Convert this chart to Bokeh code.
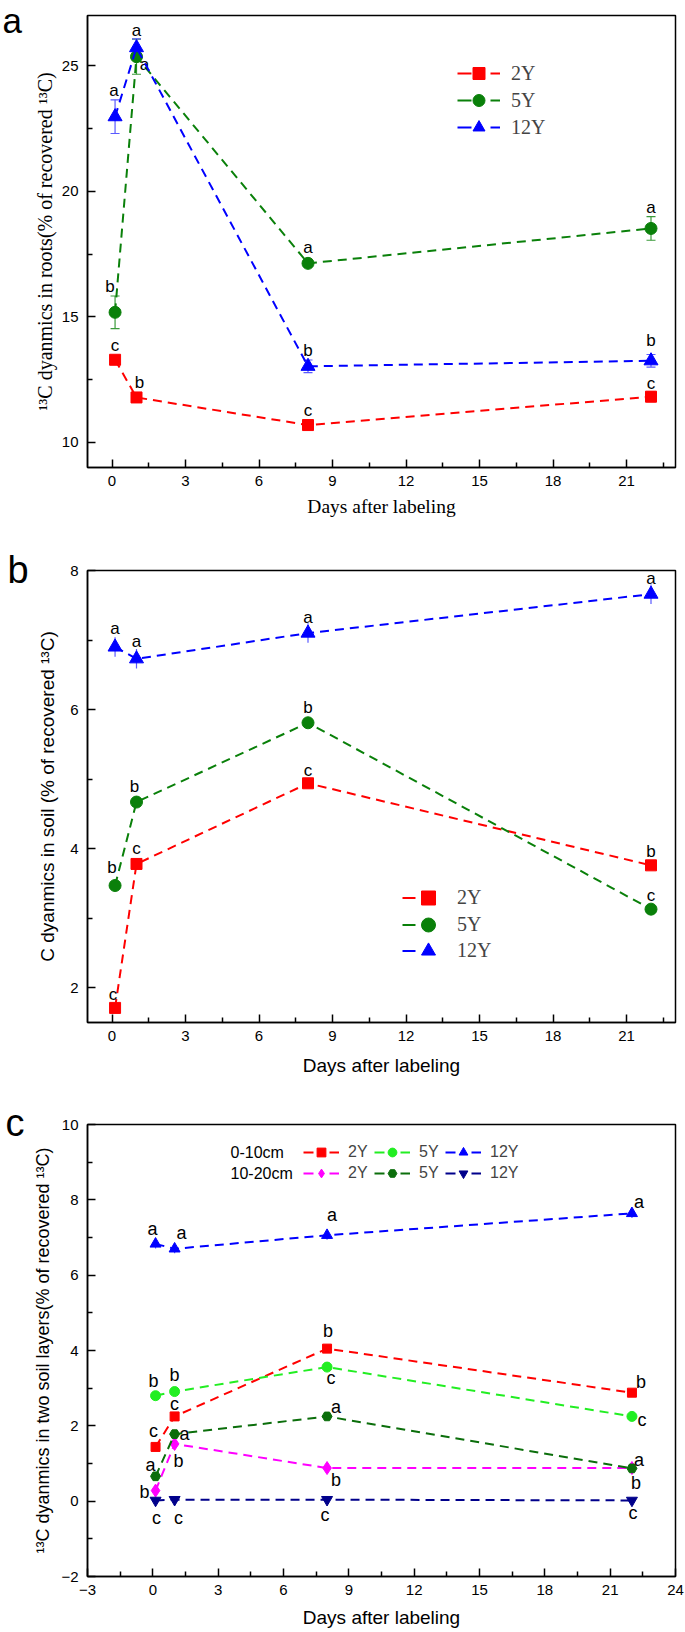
from bokeh.plotting import figure
from bokeh.models import (Range1d, FixedTicker, Legend, LegendItem, Label,
                          ColumnDataSource, Whisker, TeeHead)
from bokeh.layouts import column
from bokeh.embed import file_html
from bokeh.resources import INLINE
from bokeh.core.properties import value

SANS = "Liberation Sans"
SERIF = "Liberation Serif"
NAN = float("nan")

# ---------------- data ----------------
days = [0.125, 1, 8, 22]

# panel a: roots
roots_2y = [13.29, 11.79, 10.69, 11.82]
roots_5y = [15.18, 25.36, 17.13, 18.52]
roots_12y = [22.97, 25.72, 13.03, 13.25]
roots_2y_err = [0.10, 0.10, 0.10, 0.20]
roots_5y_err = [0.65, 0.70, 0.10, 0.47]
roots_12y_err = [0.67, 0.35, 0.25, 0.25]
roots_2y_sig = ["c", "b", "c", "c"]
roots_5y_sig = ["b", "a", "a", "a"]
roots_12y_sig = ["a", "a", "b", "b"]

# panel b: soil
soil_2y = [1.71, 3.78, 4.94, 3.76]
soil_5y = [3.47, 4.67, 5.81, 3.13]
soil_12y = [6.90, 6.73, 7.10, 7.66]
soil_2y_err = [0.03, 0.05, 0.05, 0.05]
soil_5y_err = [0.05, 0.05, 0.05, 0.05]
soil_12y_err = [0.14, 0.14, 0.14, 0.14]
soil_2y_sig = ["c", "c", "c", "b"]
soil_5y_sig = ["b", "b", "b", "c"]
soil_12y_sig = ["a", "a", "a", "a"]

# panel c: two soil layers
l1_2y = [1.44, 2.25, 4.05, 2.88]
l1_5y = [2.80, 2.91, 3.56, 2.25]
l1_12y = [6.83, 6.70, 7.06, 7.64]
l2_2y = [0.28, 1.52, 0.88, 0.88]
l2_5y = [0.66, 1.78, 2.25, 0.87]
l2_12y = [0.02, 0.04, 0.04, 0.02]
l1_12y_err = [0.12, 0.12, 0.12, 0.12]
l1_2y_sig = ["c", "c", "b", "b"]
l1_5y_sig = ["b", "b", "c", "c"]
l1_12y_sig = ["a", "a", "a", "a"]
l2_2y_sig = ["b", "b", "b", "b"]
l2_5y_sig = ["a", "a", "a", "a"]
l2_12y_sig = ["c", "c", "c", "c"]

series_names = ["2Y", "5Y", "12Y"]
layer_names = ["0-10cm", "10-20cm"]

x_ticks_ab = [0, 3, 6, 9, 12, 15, 18, 21]
x_ticks_c = [-3, 0, 3, 6, 9, 12, 15, 18, 21, 24]

# --------------- styling (label offsets in px: dx, up) ---------------
off_a_2y = [(0, 14), (3, 15), (0, 15), (0, 13)]
off_a_5y = [(-5, 26), (8, -8), (0, 16), (0, 21)]
off_a_12y = [(-1, 26), (0, 17), (0, 16), (0, 20)]
off_b_2y = [(-2, 13), (0, 15), (0, 13), (0, 14)]
off_b_5y = [(-3, 18), (-2, 16), (0, 15), (0, 14)]
off_b_12y = [(0, 18), (0, 17), (0, 16), (0, 16)]
off_c_l1_12y = [(-3, 15), (7, 16), (5, 20), (7, 11)]
off_c_l1_2y = [(-2, 16), (0, 12), (1, 18), (9, 11)]
off_c_l1_5y = [(-2, 15), (0, 17), (4, -11), (10, -4)]
off_c_l2_5y = [(-5, 11), (10, 0), (9, 9), (7, 8)]
off_c_l2_2y = [(-11, -1), (4, -17), (9, -12), (4, -15)]
off_c_l2_12y = [(1, -18), (4, -18), (-2, -15), (1, -13)]

RED, GREEN, BLUE = "#FF0000", "#0A800A", "#0000FF"
LIME, DKGREEN, NAVY, MAGENTA = "#22EE22", "#0B6E0B", "#00008B", "#FF00FF"
DASH = "9 6"


def make_fig(height, b_top, b_bottom, xr, yr, xt, xm, yt, ym):
    p = figure(width=685, height=height, output_backend="svg", toolbar_location=None,
               x_range=Range1d(*xr), y_range=Range1d(*yr),
               min_border_left=87, min_border_right=10,
               min_border_top=b_top, min_border_bottom=b_bottom)
    p.xgrid.visible = False
    p.ygrid.visible = False
    p.outline_line_color = "black"
    p.outline_line_width = 1.5
    p.background_fill_color = "white"
    p.border_fill_color = "white"
    for ax, tk, mn in ((p.xaxis[0], xt, xm), (p.yaxis[0], yt, ym)):
        ax.ticker = FixedTicker(ticks=tk, minor_ticks=mn)
        ax.major_tick_in = 8
        ax.major_tick_out = 0
        ax.minor_tick_in = 5
        ax.minor_tick_out = 0
        ax.axis_line_width = 1.5
        ax.major_tick_line_width = 1.5
        ax.minor_tick_line_width = 1.5
        ax.major_label_text_font = SANS
        ax.major_label_text_font_size = "15px"
        ax.major_label_text_color = "black"
        ax.axis_label_text_font_style = "normal"
        ax.axis_label_text_color = "black"
    p.xaxis[0].major_label_standoff = 8
    p.yaxis[0].major_label_standoff = 9
    return p


def add_series(p, ys, errs, sig, offs, color, marker, size, err_color, fsize, heads):
    p.line(days, ys, line_color=color, line_width=2, line_dash=DASH)
    if errs is not None:
        src = ColumnDataSource(dict(x=days,
                                    upper=[y + e for y, e in zip(ys, errs)],
                                    lower=[y - e for y, e in zip(ys, errs)]))
        if heads:
            kw = dict(upper_head=TeeHead(size=9, line_color=err_color, line_width=1.2),
                      lower_head=TeeHead(size=9, line_color=err_color, line_width=1.2))
        else:
            kw = dict(upper_head=None, lower_head=None)
        p.add_layout(Whisker(source=src, base="x", upper="upper", lower="lower",
                             line_color=err_color, line_width=1.2, **kw))
    sc = p.scatter(days, ys, marker=marker, size=size, fill_color=color, line_color=color)
    tsrc = ColumnDataSource(dict(x=days, y=ys, t=sig,
                                 dx=[o[0] for o in offs], dy=[-o[1] for o in offs]))
    p.text(x="x", y="y", text="t", x_offset="dx", y_offset="dy", source=tsrc,
           text_font=value(SANS), text_font_size=fsize, text_align="center",
           text_baseline="middle", text_color="black")
    return sc


def legend_line(p, color, dash):
    # renderer used only for the legend swatch (no visible data)
    return p.line([NAN, NAN], [NAN, NAN], line_color=color, line_width=2, line_dash=dash)


def single_legend(p, item, loc, gw, gh, standoff, font, fsize):
    p.add_layout(Legend(items=[item], location=loc, orientation="vertical",
                        glyph_width=gw, glyph_height=gh, spacing=0, padding=0, margin=0,
                        label_standoff=standoff, label_text_font=font,
                        label_text_font_size=fsize, label_height=10,
                        border_line_alpha=0, background_fill_alpha=0))


def panel_letter(p, letter, offset, standoff, fsize):
    p.title.text = letter
    p.title.text_font = SANS
    p.title.text_font_size = fsize
    p.title.text_font_style = "normal"
    p.title.text_color = "black"
    p.title.align = "left"
    p.title.vertical_align = "bottom"
    p.title.offset = offset
    p.title.standoff = standoff


# ---------------- panel a ----------------
pa = make_fig(540, 15, 73, (-1, 23), (9, 27), x_ticks_ab,
              [1.5 + 3 * i for i in range(8)], [10, 15, 20, 25], [12.5, 17.5, 22.5])
pa.xaxis.axis_label = "Days after labeling"
pa.xaxis.axis_label_text_font = SERIF
pa.xaxis.axis_label_text_font_size = "19.5px"
pa.xaxis.axis_label_standoff = 7
pa.yaxis.axis_label = "¹³C dyanmics in roots(% of recovered ¹³C)"
pa.yaxis.axis_label_text_font = SERIF
pa.yaxis.axis_label_text_font_size = "20px"
pa.yaxis.axis_label_standoff = 3

for ys, errs, sig, offs, col, mk, sz, ec, nm, vy in (
        (roots_2y, roots_2y_err, roots_2y_sig, off_a_2y, RED, "square", 11, "#FF5555", series_names[0], 379),
        (roots_5y, roots_5y_err, roots_5y_sig, off_a_5y, GREEN, "circle", 12, "#3A9A3A", series_names[1], 352),
        (roots_12y, roots_12y_err, roots_12y_sig, off_a_12y, BLUE, "triangle", 14, "#5A5AFF", series_names[2], 325)):
    sc = add_series(pa, ys, errs, sig, offs, col, mk, sz, ec, "17px", True)
    item = LegendItem(label=nm, renderers=[legend_line(pa, col, "14 19"), sc])
    single_legend(pa, item, (370, vy), 43, 30, 11, SERIF, "20px")
panel_letter(pa, "a", -85, -48, "35px")

# ---------------- panel b ----------------
pb = make_fig(555, 30, 73, (-1, 23), (1.5, 8), x_ticks_ab,
              [1.5 + 3 * i for i in range(8)], [2, 4, 6, 8], [3, 5, 7])
pb.xaxis.axis_label = "Days after labeling"
pb.xaxis.axis_label_text_font = SANS
pb.xaxis.axis_label_text_font_size = "19px"
pb.xaxis.axis_label_standoff = 11
pb.yaxis.axis_label = "C dyanmics in soil (% of recovered ¹³C)"
pb.yaxis.axis_label_text_font = SANS
pb.yaxis.axis_label_text_font_size = "19px"
pb.yaxis.axis_label_standoff = 9

for ys, errs, sig, offs, col, mk, sz, ec, nm, vy in (
        (soil_2y, soil_2y_err, soil_2y_sig, off_b_2y, RED, "square", 11, "#FF5555", series_names[0], 107),
        (soil_5y, soil_5y_err, soil_5y_sig, off_b_5y, GREEN, "circle", 12, "#3A9A3A", series_names[1], 80),
        (soil_12y, soil_12y_err, soil_12y_sig, off_b_12y, BLUE, "triangle", 14, "#5A5AFF", series_names[2], 54)):
    sc = add_series(pb, ys, errs, sig, offs, col, mk, sz, ec, "17px", False)
    item = LegendItem(label=nm, renderers=[legend_line(pb, col, "13 100"), sc])
    single_legend(pb, item, (315, vy), 52, 35, 3, SERIF, "20px")
panel_letter(pb, "b", -80, -40, "38px")

# ---------------- panel c ----------------
pc = make_fig(537, 29, 56, (-3, 24), (-2, 10), x_ticks_c,
              [-1.5 + 3 * i for i in range(9)], [-2, 0, 2, 4, 6, 8, 10], [-1, 1, 3, 5, 7, 9])
pc.xaxis.axis_label = "Days after labeling"
pc.xaxis.axis_label_text_font = SANS
pc.xaxis.axis_label_text_font_size = "19px"
pc.xaxis.axis_label_standoff = 9
pc.yaxis.axis_label = "¹³C dyanmics in two soil layers(% of recovered ¹³C)"
pc.yaxis.axis_label_text_font = SANS
pc.yaxis.axis_label_text_font_size = "18px"
pc.yaxis.axis_label_standoff = 5

c_rows = [[], []]
for row, ys, errs, sig, offs, col, mk, sz, nm in (
        (0, l1_2y, None, l1_2y_sig, off_c_l1_2y, RED, "square", 9, series_names[0]),
        (0, l1_5y, None, l1_5y_sig, off_c_l1_5y, LIME, "circle", 10, series_names[1]),
        (0, l1_12y, l1_12y_err, l1_12y_sig, off_c_l1_12y, BLUE, "triangle", 11, series_names[2]),
        (1, l2_2y, None, l2_2y_sig, off_c_l2_2y, MAGENTA, "diamond", 13, series_names[0]),
        (1, l2_5y, None, l2_5y_sig, off_c_l2_5y, DKGREEN, "hex", 10, series_names[1]),
        (1, l2_12y, None, l2_12y_sig, off_c_l2_12y, NAVY, "inverted_triangle", 11, series_names[2])):
    sc = add_series(pc, ys, errs, sig, offs, col, mk, sz, "#5A5AFF", "18px", False)
    c_rows[row].append(LegendItem(label=nm, renderers=[legend_line(pc, col, "10 16"), sc]))

for row, vy in ((0, 413), (1, 392)):
    pc.add_layout(Legend(items=c_rows[row], location=(216, vy), orientation="horizontal",
                         glyph_width=36, glyph_height=22, spacing=6, padding=0, margin=0,
                         label_standoff=9, label_text_font=SANS, label_text_font_size="16px",
                         border_line_alpha=0, background_fill_alpha=0))
for nm, vy in ((layer_names[0], 424), (layer_names[1], 403)):
    pc.add_layout(Label(x=143, y=vy, x_units="screen", y_units="screen", text=nm,
                        text_font=SANS, text_font_size="16px", text_color="black",
                        text_align="left", text_baseline="middle"))
panel_letter(pc, "c", -82, -38, "38px")

layout = column(pa, pb, pc)
open("out.html", "w").write(file_html(layout, INLINE))
